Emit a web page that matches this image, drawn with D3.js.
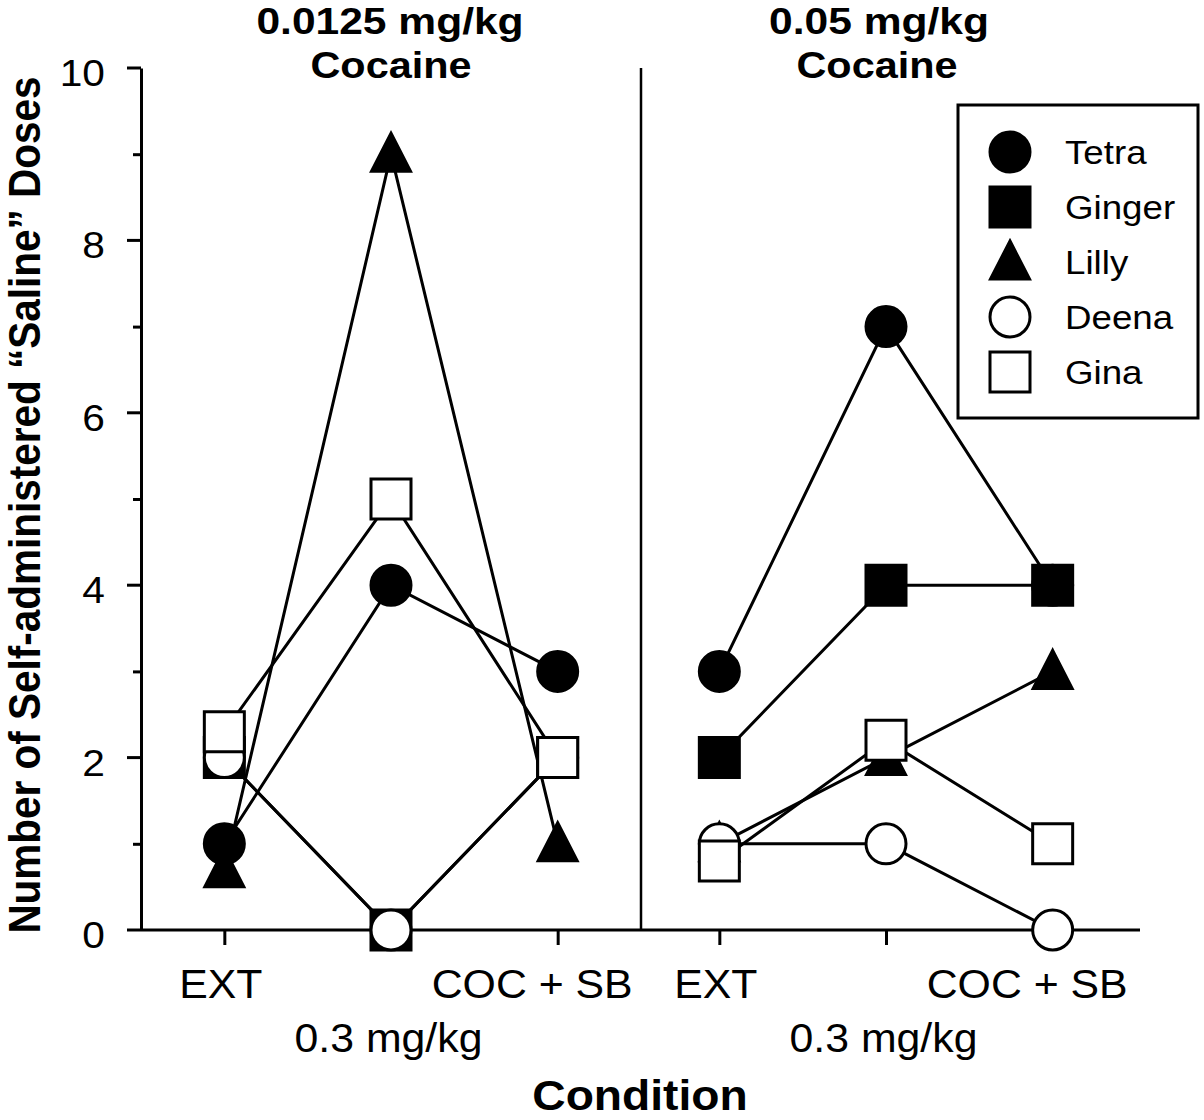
<!DOCTYPE html>
<html>
<head>
<meta charset="utf-8">
<script src="https://cdn.jsdelivr.net/npm/d3@7"></script>
<style>
  html, body { margin: 0; padding: 0; background: #fff; }
  svg { display: block; }
  text { font-family: "Liberation Sans", Arial, Helvetica, sans-serif; fill: #000; }
</style>
</head>
<body>
<svg id="chart" width="1204" height="1120"></svg>
<script>
// ---------------- data ----------------
const categories = ["EXT", "0.3 mg/kg", "COC + SB"];
const panelTitlesLow = ["0.0125 mg/kg", "Cocaine"];
const panelTitlesHigh = ["0.05 mg/kg", "Cocaine"];
const subjects = ["Tetra", "Ginger", "Lilly", "Deena", "Gina"];

// 0.0125 mg/kg cocaine panel
const tetraLow  = [1, 4, 3];
const gingerLow = [2, 0, 2];
const lillyLow  = [0.7, 9, 1];
const deenaLow  = [2, 0, 2];
const ginaLow   = [2.3, 5, 2];

// 0.05 mg/kg cocaine panel
const tetraHigh  = [3, 7, 4];
const gingerHigh = [2, 4, 4];
const lillyHigh  = [1, 2, 3];
const deenaHigh  = [1, 1, 0];
const ginaHigh   = [0.8, 2.2, 1];

const yMajorTicks = [0, 2, 4, 6, 8, 10];
const yMinorTicks = [1, 3, 5, 7, 9];
const yLabel = "Number of Self-administered \u201CSaline\u201D Doses";
const xLabel = "Condition";

// ---------------- styles ----------------
const symbolStyle = {
  Tetra:  { shape: "circle",   filled: true },
  Ginger: { shape: "square",   filled: true },
  Lilly:  { shape: "triangle", filled: true },
  Deena:  { shape: "circle",   filled: false },
  Gina:   { shape: "square",   filled: false }
};
const drawOrder = ["Lilly", "Tetra", "Ginger", "Deena", "Gina"];

const svg = d3.select("#chart");
svg.append("rect").attr("width", 1204).attr("height", 1120).attr("fill", "#fff");

const y = d3.scaleLinear().domain([0, 10]).range([930, 68]);
const xLow = d3.scalePoint().domain(categories).range([141, 641]).padding(0.5);
const xHigh = d3.scalePoint().domain(categories).range([636, 1136]).padding(0.5);

function symbolPath(shape) {
  if (shape === "circle") return "M20,0A20,20 0 1,1 -20,0A20,20 0 1,1 20,0Z";
  if (shape === "square") return "M-20,-20H20V20H-20Z";
  return "M0,-21L19.5,17H-19.5Z";
}
function drawSymbol(g, name, cx, cy) {
  const st = symbolStyle[name];
  g.append("path")
    .attr("d", symbolPath(st.shape))
    .attr("transform", `translate(${cx},${cy})`)
    .attr("fill", st.filled ? "#000" : "#fff")
    .attr("stroke", "#000")
    .attr("stroke-width", 3)
    .attr("stroke-linejoin", "miter");
}
function stretchedText(g, str, x, yy, size, weight, anchor, sx) {
  return g.append("text")
    .attr("transform", `translate(${x},${yy}) scale(${sx},1)`)
    .attr("font-size", size)
    .attr("font-weight", weight || "normal")
    .attr("text-anchor", anchor || "middle")
    .text(str);
}

// ---------------- y axis ----------------
const yAxisG = svg.append("g").attr("transform", "translate(141,0)");
yAxisG.call(d3.axisLeft(y).tickValues(yMinorTicks).tickSize(8).tickSizeOuter(0).tickFormat(""));
yAxisG.selectAll("path.domain").remove();
const yAxisMajor = svg.append("g").attr("transform", "translate(141,0)");
yAxisMajor.call(d3.axisLeft(y).tickValues(yMajorTicks).tickSize(14).tickSizeOuter(0).tickFormat(d3.format("d")));
yAxisMajor.selectAll("text")
  .attr("x", 0).attr("dy", null).attr("y", null)
  .attr("transform", d => `translate(-36,${y(d) + 18}) scale(1.13,1)`)
  .attr("font-size", 36)
  .attr("font-family", "Liberation Sans, Arial, sans-serif")
  .attr("fill", "#000");
yAxisMajor.selectAll(".tick").attr("transform", null);
yAxisMajor.selectAll(".tick line").attr("y1", d => y(d)).attr("y2", d => y(d));
svg.selectAll(".tick line").attr("stroke", "#000").attr("stroke-width", 3);
yAxisMajor.select("path.domain").attr("stroke", "#000").attr("stroke-width", 3);

// ---------------- x axes ----------------
function xAxisFor(scale) {
  const g = svg.append("g").attr("transform", "translate(0,930)");
  g.call(d3.axisBottom(scale).tickSize(15).tickSizeOuter(0));
  g.select("path.domain").remove();
  g.selectAll(".tick line").attr("stroke", "#000").attr("stroke-width", 3);
  g.selectAll(".tick text")
    .attr("y", null).attr("dy", null)
    .attr("font-size", 40)
    .attr("font-family", "Liberation Sans, Arial, sans-serif")
    .attr("fill", "#000")
    .attr("transform", (d, i) => {
      const dx = i === 0 ? -4 : (i === 2 ? -26 : -3);
      const by = i === 1 ? 122 : 68;
      return `translate(${dx},${by}) scale(1.07,1)`;
    });
  return g;
}
xAxisFor(xLow);
xAxisFor(xHigh);

// baseline and panel divider
svg.append("line")
  .attr("x1", 141).attr("x2", 1140).attr("y1", y(0)).attr("y2", y(0))
  .attr("stroke", "#000").attr("stroke-width", 3);
svg.append("line")
  .attr("x1", 641).attr("x2", 641).attr("y1", y(10)).attr("y2", y(0))
  .attr("stroke", "#000").attr("stroke-width", 2.5);

// ---------------- data layer ----------------
const panels = [
  { x: xLow,  series: { Tetra: tetraLow,  Ginger: gingerLow,  Lilly: lillyLow,  Deena: deenaLow,  Gina: ginaLow } },
  { x: xHigh, series: { Tetra: tetraHigh, Ginger: gingerHigh, Lilly: lillyHigh, Deena: deenaHigh, Gina: ginaHigh } }
];

const linesG = svg.append("g");
const marksG = svg.append("g");
panels.forEach(p => {
  subjects.forEach(name => {
    const vals = p.series[name];
    const line = d3.line().x((d, i) => p.x(categories[i])).y(d => y(d));
    linesG.append("path")
      .attr("d", line(vals))
      .attr("fill", "none")
      .attr("stroke", "#000")
      .attr("stroke-width", 3);
  });
});
panels.forEach(p => {
  drawOrder.forEach(name => {
    p.series[name].forEach((v, i) => drawSymbol(marksG, name, p.x(categories[i]), y(v)));
  });
});

// ---------------- titles ----------------
const tg = svg.append("g");
stretchedText(tg, panelTitlesLow[0], 390, 34, 37, "bold", "middle", 1.15);
stretchedText(tg, panelTitlesLow[1], 391, 78, 37, "bold", "middle", 1.12);
stretchedText(tg, panelTitlesHigh[0], 879, 34, 37, "bold", "middle", 1.15);
stretchedText(tg, panelTitlesHigh[1], 877, 78, 37, "bold", "middle", 1.12);

// axis titles
stretchedText(tg, xLabel, 640, 1110, 42, "bold", "middle", 1.1);
tg.append("text")
  .attr("transform", "translate(40,505) scale(1.08,1) rotate(-90)")
  .attr("font-size", 40.5)
  .attr("font-weight", "bold")
  .attr("text-anchor", "middle")
  .text(yLabel);

// ---------------- legend ----------------
const lg = svg.append("g");
lg.append("rect")
  .attr("x", 958).attr("y", 105).attr("width", 240).attr("height", 313)
  .attr("fill", "#fff").attr("stroke", "#000").attr("stroke-width", 3);
subjects.forEach((name, i) => {
  const cy = 152 + i * 55;
  drawSymbol(lg, name, 1010, cy);
  stretchedText(lg, name, 1065, cy + 12, 34, "normal", "start", 1.08);
});
</script>
</body>
</html>
